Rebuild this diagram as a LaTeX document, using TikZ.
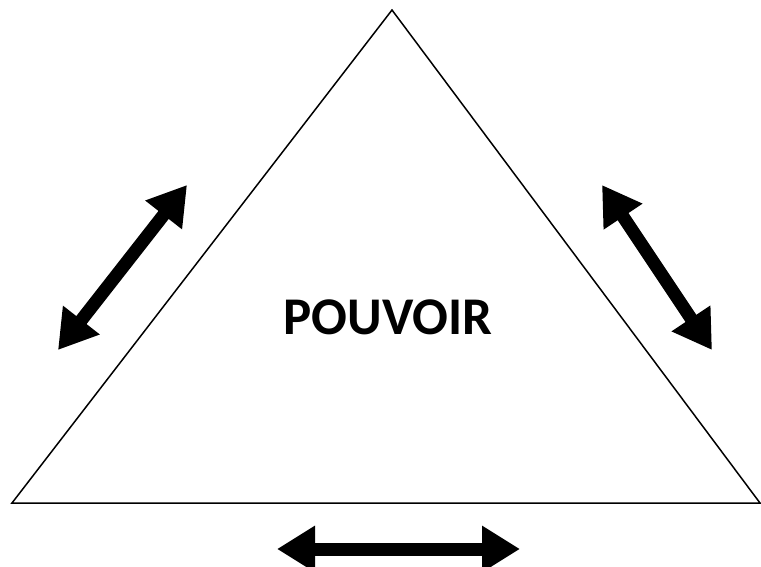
\documentclass[tikz,border=0pt]{standalone}
\usepackage{fontspec}
\setmainfont{Carlito}
\usetikzlibrary{arrows.meta}

\begin{document}
\begin{tikzpicture}[x=1pt,y=-1pt,
    side/.style={draw,line width=1.5pt,line join=miter},
    link/.style={{Triangle[length=38pt,width=44pt]}-{Triangle[length=38pt,width=44pt]},line width=13pt}]

  \useasboundingbox (0,0) rectangle (761,567);

  % triangle corners
  \coordinate (top)   at (392,10);
  \coordinate (left)  at (12,503);
  \coordinate (right) at (760,503);
  \draw[side] (top) -- (left) -- (right) -- cycle;

  \node (pouvoir) at (388,317) {\fontsize{53}{58}\selectfont\bfseries POUVOIR};

  % arrow ends
  \coordinate (l1) at (58,350);
  \coordinate (l2) at (187,185);
  \coordinate (r1) at (602,185);
  \coordinate (r2) at (712,350);
  \coordinate (b1) at (277,549);
  \coordinate (b2) at (520,549);

  \draw[link] (l1) -- (l2);
  \draw[link] (r1) -- (r2);
  \draw[link] (b1) -- (b2);
\end{tikzpicture}
\end{document}
